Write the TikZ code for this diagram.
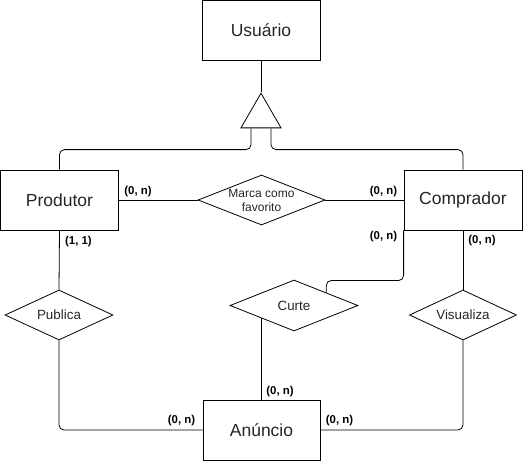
\documentclass[tikz,border=0pt]{standalone}
\usepackage{fontspec}
\setmainfont{Liberation Sans}
\usetikzlibrary{shapes.geometric}
\begin{document}
\begin{tikzpicture}[x=1pt, y=-1pt, line width=0.8pt,
    entidade/.style={draw, minimum width=118pt, minimum height=60pt, inner sep=0pt,
      text=black!85, font=\fontsize{17.5}{20}\selectfont},
    relacao/.style={draw, diamond, aspect=2.2, inner sep=-6pt, minimum width=108pt,
      minimum height=50pt, align=center, text=black!85, font=\fontsize{13.4}{16}\selectfont},
    card/.style={inner sep=0pt, font=\fontsize{11.4}{13}\selectfont\bfseries}]
  \useasboundingbox (0,0) rectangle (531,461);
  \node[entidade] (usuario) at (261,30) {Usuário};
  \node[entidade] (produtor) at (59.5,200) {Produtor};
  \node[entidade] (comprador) at (463,200) {Comprador};
  \node[entidade, minimum width=117pt] (anuncio) at (261.5,430) {Anúncio};
  \node[draw, regular polygon, regular polygon sides=3, minimum size=46.2pt,
    inner sep=0pt] (heranca) at (261,116.3) {};
  \node[relacao, minimum width=127pt, font=\fontsize{12}{14}\selectfont]
    (favorito) at (261.5,200) {Marca como\\favorito};
  \node[relacao] (publica) at (59,315) {Publica};
  \node[relacao, minimum width=128pt, minimum height=51pt] (curte) at (294,305.5) {Curte};
  \node[relacao, minimum width=107pt] (visualiza) at (463,315) {Visualiza};
  \node[card] (cprodfav) at (138,191.5) {(0, n)};
  \node[card] (ccompfav) at (383.5,191.5) {(0, n)};
  \node[card] (cprodpub) at (78.5,241.5) {(1, 1)};
  \node[card] (ccompcur) at (383.5,236.5) {(0, n)};
  \node[card] (ccompvis) at (482,241) {(0, n)};
  \node[card] (canucur) at (280,392) {(0, n)};
  \node[card] (canupub) at (181.5,420.5) {(0, n)};
  \node[card] (canuvis) at (339.5,420.5) {(0, n)};
  \draw (usuario.south) -- (heranca.north);
  \draw[rounded corners=5pt] ([xshift=-10pt]heranca.south) |- ([yshift=20pt]produtor.north) -- (produtor.north);
  \draw[rounded corners=5pt] ([xshift=10pt]heranca.south) |- ([yshift=20pt]comprador.north) -- (comprador.north);
  \draw (produtor.east) -- (favorito.west);
  \draw (favorito.east) -- (comprador.west);
  \draw (produtor.south) -- (publica.north);
  \draw[rounded corners=5pt] (publica.south) |- (anuncio.west);
  \draw (comprador.south) -- (visualiza.north);
  \draw[rounded corners=5pt] (visualiza.south) |- (anuncio.east);
  \draw (anuncio.north) -- (anuncio.north |- curte.south west);
  \draw[rounded corners=5pt] (comprador.south west) |- ([yshift=12pt]curte.north east) -- (curte.north east);
\end{tikzpicture}
\end{document}
